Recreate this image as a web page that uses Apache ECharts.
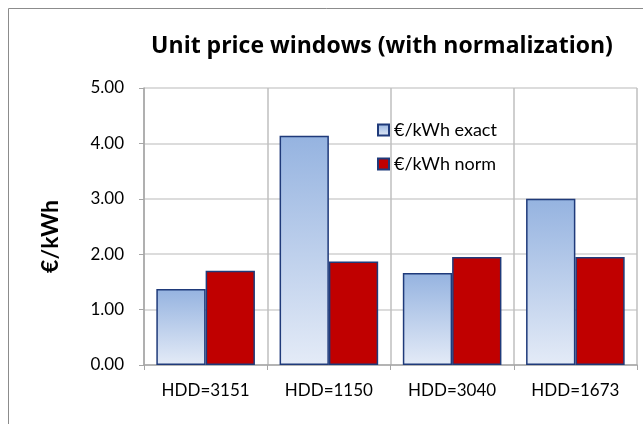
<!DOCTYPE html>
<html>
<head>
<meta charset="utf-8">
<script src="https://cdn.jsdelivr.net/npm/echarts@6/dist/echarts.min.js"></script>
<style>
  html, body { margin: 0; padding: 0; background: #fff; }
  #chart { width: 643px; height: 424px; }
</style>
</head>
<body>
<div id="chart"></div>
<script>
  var categories = ['HDD=3151', 'HDD=1150', 'HDD=3040', 'HDD=1673'];
  var exactValues = [1.37, 4.14, 1.66, 3.00];
  var normValues = [1.70, 1.87, 1.95, 1.95];

  var myChart = echarts.init(document.getElementById('chart'));
  var font = 'Lato, "Open Sans", sans-serif';

  var option = {
    animation: false,
    graphic: [{
      type: 'rect',
      shape: { x: 8.5, y: 8.5, width: 700, height: 500 },
      style: { fill: 'none', stroke: '#8c8c8c', lineWidth: 1 }
    }],
    title: {
      text: 'Unit price windows (with normalization)',
      left: 377,
      textAlign: 'center',
      top: 30,
      textStyle: { fontFamily: '"Open Sans", sans-serif', fontSize: 23, fontWeight: 'bold', color: '#000' }
    },
    legend: {
      orient: 'vertical',
      left: 372,
      top: 116,
      itemWidth: 11,
      itemHeight: 11,
      itemGap: 16,
      icon: 'rect',
      textStyle: { fontFamily: font, fontSize: 18, color: '#000' },
      data: ['€/kWh exact', '€/kWh norm']
    },
    grid: { left: 144, right: 6, top: 88, bottom: 59 },
    xAxis: {
      type: 'category',
      data: categories,
      axisLine: { lineStyle: { color: '#a6a6a6', width: 1.5 } },
      axisTick: { show: true, length: 5, lineStyle: { color: '#a6a6a6' } },
      splitLine: { show: true, lineStyle: { color: '#bfbfbf', width: 1.5 } },
      axisLabel: { fontFamily: font, fontSize: 17, color: '#000', margin: 17 }
    },
    yAxis: {
      type: 'value',
      min: 0,
      max: 5,
      interval: 1,
      name: '€/kWh',
      nameLocation: 'middle',
      nameGap: 82,
      nameTextStyle: {
        fontFamily: font, fontSize: 23, fontWeight: 'bold', color: '#000',
        padding: [0, 20, 0, 0]
      },
      axisLine: { show: true, lineStyle: { color: '#a6a6a6', width: 1.5 } },
      axisTick: { show: true, length: 5, lineStyle: { color: '#a6a6a6' } },
      splitLine: { show: true, lineStyle: { color: '#d0d0d0', width: 1.5 } },
      axisLabel: {
        fontFamily: font, fontSize: 17, color: '#000', margin: 20,
        formatter: function (v) { return v.toFixed(2); }
      }
    },
    series: [
      {
        name: '€/kWh exact',
        type: 'bar',
        barGap: '0%',
        barCategoryGap: '20%',
        itemStyle: {
          color: new echarts.graphic.LinearGradient(0, 0, 0, 1, [
            { offset: 0, color: '#95b3e0' },
            { offset: 1, color: '#e4ebf7' }
          ]),
          borderColor: '#1f3a7a',
          borderWidth: 1.5
        },
        data: exactValues
      },
      {
        name: '€/kWh norm',
        type: 'bar',
        itemStyle: {
          color: '#c00000',
          borderColor: '#1f3a7a',
          borderWidth: 1.5
        },
        data: normValues
      }
    ]
  };
  myChart.setOption(option);
</script>
</body>
</html>
